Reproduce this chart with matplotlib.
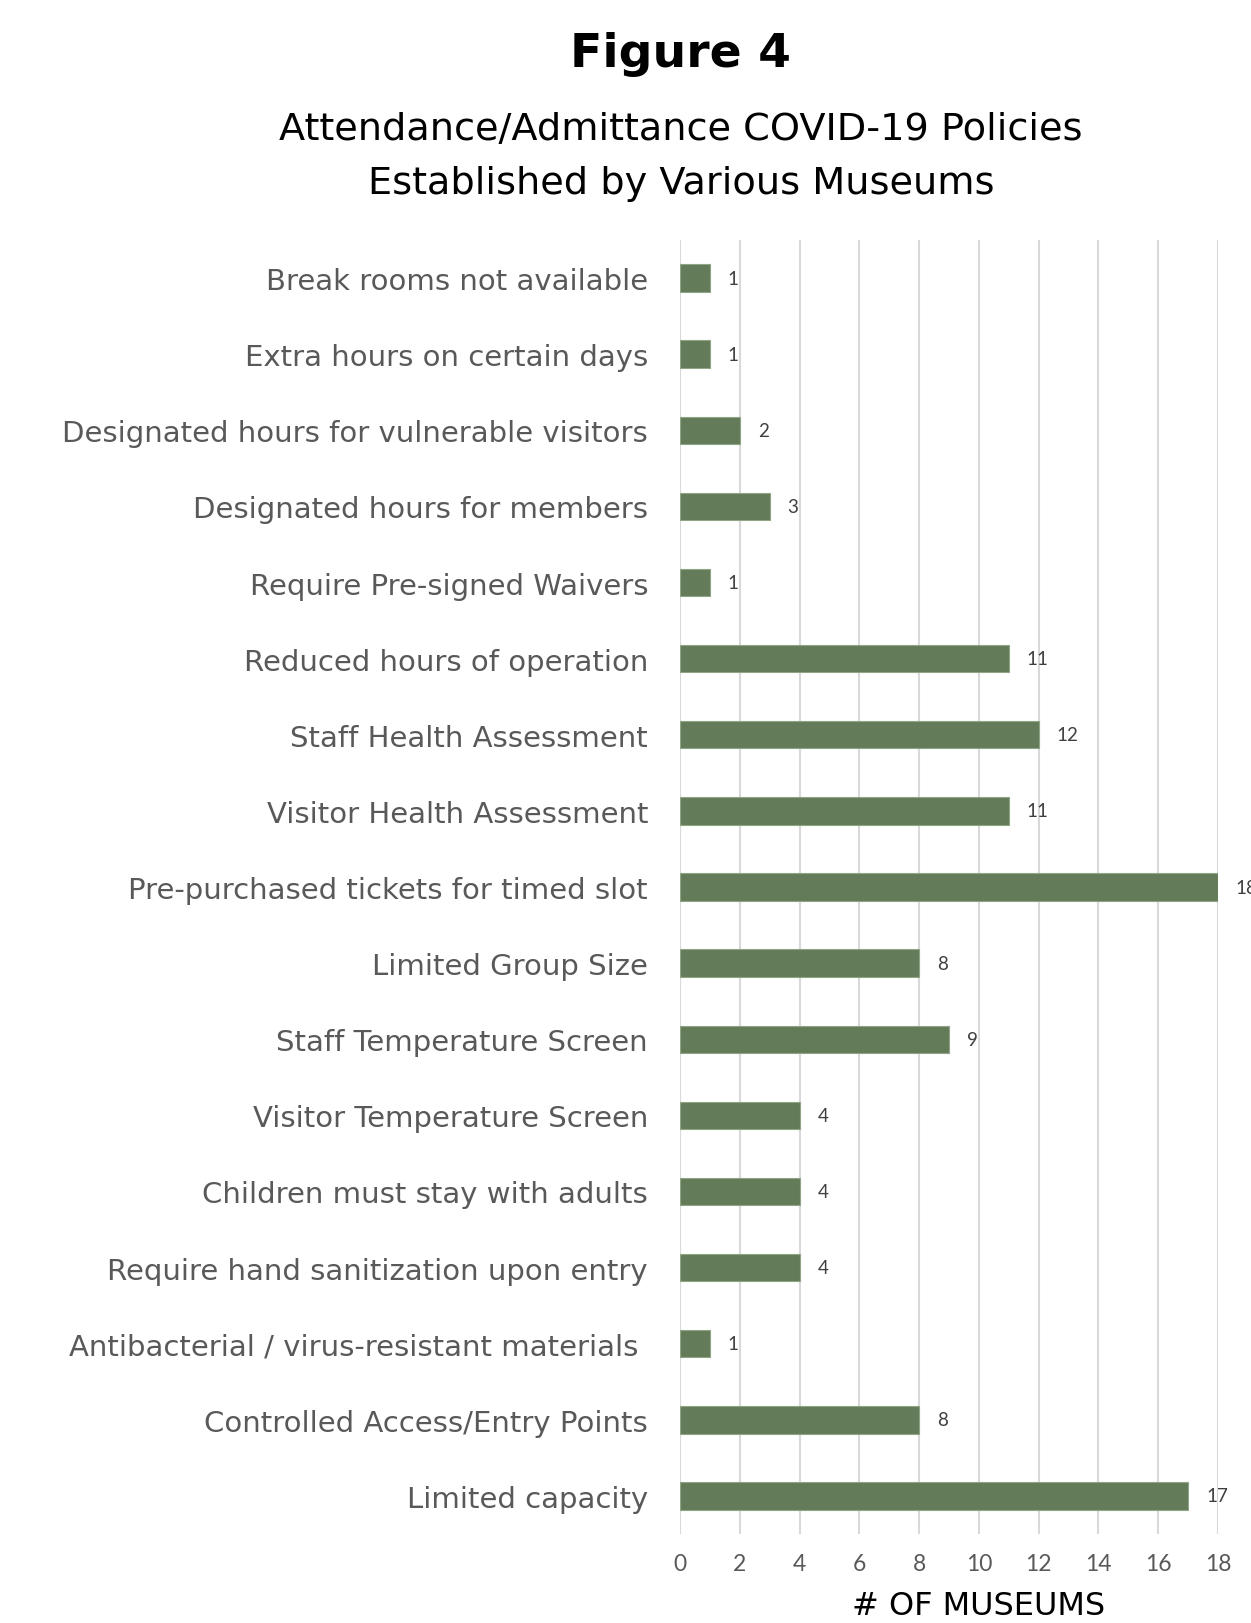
import matplotlib
matplotlib.use("Agg")
import matplotlib.pyplot as plt

# Data (top to bottom as shown in the chart)
policies = [
    "Break rooms not available",
    "Extra hours on certain days",
    "Designated hours for vulnerable visitors",
    "Designated hours for members",
    "Require Pre-signed Waivers",
    "Reduced hours of operation",
    "Staff Health Assessment",
    "Visitor Health Assessment",
    "Pre-purchased tickets for timed slot",
    "Limited Group Size",
    "Staff Temperature Screen",
    "Visitor Temperature Screen",
    "Children must stay with adults",
    "Require hand sanitization upon entry",
    "Antibacterial / virus-resistant materials ",
    "Controlled Access/Entry Points",
    "Limited capacity",
]
museums = [1, 1, 2, 3, 1, 11, 12, 11, 18, 8, 9, 4, 4, 4, 1, 8, 17]
x_ticks = [0, 2, 4, 6, 8, 10, 12, 14, 16, 18]

BAR_COLOR = "#637B58"
TEXT_GREY = "#595959"
GRID_GREY = "#D9D9D9"

fig = plt.figure(figsize=(12.51, 16.24), dpi=100)
ax = fig.add_axes([0.5436, 0.0548, 0.430, 0.7968])

pos = list(range(len(policies)))
ax.barh(pos, museums, height=0.36, color=BAR_COLOR, edgecolor="#8FA585",
        linewidth=0.8, zorder=3)

# value labels at the end of each bar
for p, v in zip(pos, museums):
    ax.text(v + 0.6, p, str(v), va="center", ha="left", fontsize=13.5,
            color="#404040", family="Lato", clip_on=False)

ax.set_ylim(len(policies) - 0.5, -0.5)
ax.set_xlim(0, 18)
ax.set_xticks(x_ticks)
ax.set_yticks(pos)
ax.set_yticklabels(policies, fontsize=21, color=TEXT_GREY, family="DejaVu Sans")
ax.tick_params(axis="y", length=0, pad=23)
ax.tick_params(axis="x", length=0, pad=14, labelsize=16.5, labelcolor=TEXT_GREY)
for lbl in ax.get_xticklabels():
    lbl.set_family("Lato")

ax.grid(axis="x", color=GRID_GREY, linewidth=1.5, zorder=0)
for s in ax.spines.values():
    s.set_visible(False)

fig.text(0.5436, 0.9667, "Figure 4", ha="center", va="center",
         fontsize=34, fontweight="bold", color="black")
fig.text(0.5444, 0.920, "Attendance/Admittance COVID-19 Policies",
         ha="center", va="center", fontsize=27.5, color="black")
fig.text(0.5444, 0.887, "Established by Various Museums",
         ha="center", va="center", fontsize=27.5, color="black")
fig.text(0.782, 0.011, "# OF MUSEUMS", ha="center", va="center",
         fontsize=23, color="black")

fig.savefig("out.png", dpi=100)
